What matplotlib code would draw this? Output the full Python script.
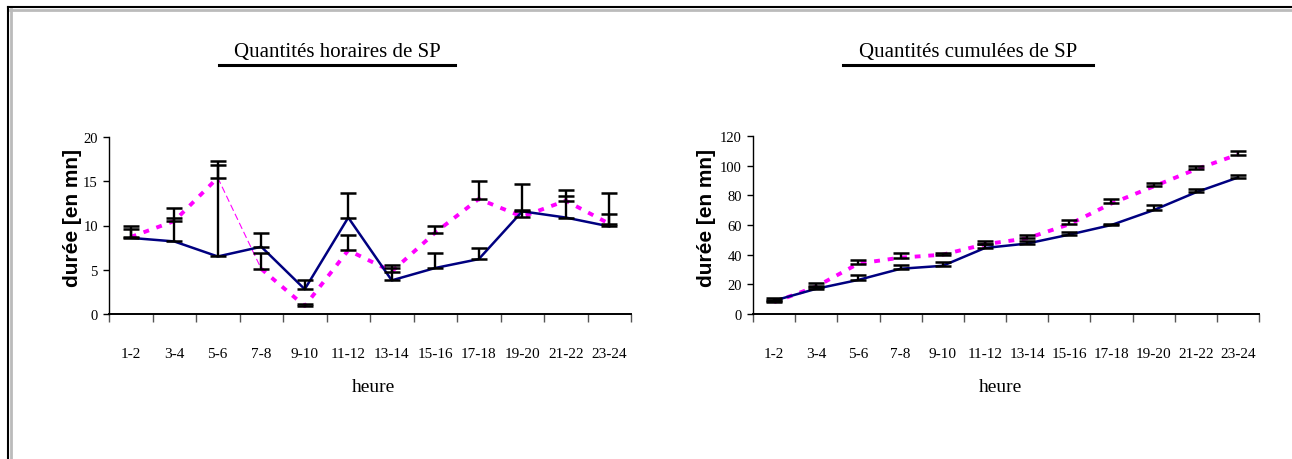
import numpy as np
import matplotlib.pyplot as plt
from matplotlib.lines import Line2D

# catégories (heures)
heures = ['1-2', '3-4', '5-6', '7-8', '9-10', '11-12',
          '13-14', '15-16', '17-18', '19-20', '21-22', '23-24']

# quantités horaires
horaire_bleu = [8.6, 8.2, 6.5, 7.6, 2.8, 10.9, 3.8, 5.2, 6.2, 11.6, 10.9, 9.9]
horaire_bleu_err = [1.3, 3.8, 10.8, 1.6, 1.0, 2.8, 1.7, 1.7, 1.3, 3.1, 2.4, 3.8]
horaire_rose = [8.7, 10.5, 15.4, 5.1, 0.9, 7.2, 4.8, 9.2, 13.0, 11.0, 12.8, 10.2]
horaire_rose_err = [0.9, 0.4, 1.4, 1.8, 0.2, 1.7, 0.4, 0.7, 2.0, 0.7, 1.2, 1.1]

# quantités cumulées
cumul_bleu = [9, 17, 23, 30.5, 32.5, 44.5, 47.5, 53.5, 60, 70, 82, 92]
cumul_bleu_err = [1.8, 3.7, 3.5, 2.5, 2.5, 2.5, 2, 1.5, 1, 3.5, 2, 2]
cumul_rose = [8, 18.5, 34, 38, 40, 47, 51, 60.5, 74.5, 86, 97.5, 107.5]
cumul_rose_err = [1.7, 0.6, 2.5, 3, 1, 2, 2, 3, 3, 2, 2.5, 2.5]

W, H = 1292, 460
fig = plt.figure(figsize=(W / 100, H / 100), dpi=100)

serif = 'Liberation Serif'
navy = '#000080'
magenta = '#FF00FF'


def px(x0, y0, x1, y1):
    # rectangle en pixels -> coordonnées figure
    return [x0 / W, 1 - y1 / H, (x1 - x0) / W, (y1 - y0) / H]


def tracer(ax, bleu, bleu_err, rose, rose_err, ymax, pas, coupe=False):
    x = np.arange(len(heures))
    ax.plot(x, bleu, color=navy, lw=1.8, zorder=3)
    dots = dict(color=magenta, lw=2.8, dashes=(1.5, 2.0), dash_capstyle='butt', zorder=2)
    if coupe:
        ax.plot(x[:3], rose[:3], **dots)
        ax.plot(x[3:], rose[3:], **dots)
        ax.plot(x[2:4], rose[2:4], color=magenta, lw=0.8, dashes=(6, 3), zorder=2)
    else:
        ax.plot(x, rose, **dots)
    zeros = np.zeros(len(heures))
    for v, e in ((bleu, bleu_err), (rose, rose_err)):
        ax.errorbar(x, v, yerr=[zeros, e], fmt='none', ecolor='black',
                    elinewidth=1.7, capsize=6, capthick=1.8, zorder=4)
    ax.set_xlim(-0.5, len(heures) - 0.5)
    ax.set_ylim(0, ymax)
    ax.set_yticks(np.arange(0, ymax + 1, pas))
    ax.set_xticks(x)
    ax.set_xticklabels(heures, fontfamily=serif, fontsize=11)
    ax.set_xticks(np.arange(-0.5, len(heures), 1), minor=True)
    ax.tick_params(axis='x', which='major', length=0, pad=24)
    ax.tick_params(axis='x', which='minor', length=6, width=1, color='#555555')
    ax.tick_params(axis='y', length=4, width=1, pad=4)
    for lab in ax.get_yticklabels():
        lab.set_fontfamily(serif)
        lab.set_fontsize(10.5)
    for s in ('top', 'right'):
        ax.spines[s].set_visible(False)
    ax.spines['left'].set_linewidth(1)
    ax.spines['bottom'].set_linewidth(1.4)
    ax.set_facecolor('none')


ax1 = fig.add_axes(px(109, 138, 631, 315))
tracer(ax1, horaire_bleu, horaire_bleu_err, horaire_rose, horaire_rose_err, 20, 5, coupe=True)
ax2 = fig.add_axes(px(753, 137, 1259, 315))
tracer(ax2, cumul_bleu, cumul_bleu_err, cumul_rose, cumul_rose_err, 120, 20)

# titres soulignés
for cx, x0, x1, txt in ((337, 219, 455, 'Quantités horaires de SP'),
                        (968, 843, 1093, 'Quantités cumulées de SP')):
    fig.text(cx / W, 1 - 52 / H, txt, ha='center', va='center',
             fontfamily=serif, fontsize=15)
    fig.add_artist(Line2D([x0 / W, x1 / W], [1 - 66 / H, 1 - 66 / H],
                          color='black', lw=2.2))

# axes: libellés
for cx in (373, 1000):
    fig.text(cx / W, 1 - 388 / H, 'heure', ha='center', va='center',
             fontfamily=serif, fontsize=14)
for cx in (73, 707):
    fig.text(cx / W, 1 - 218 / H, 'durée [en mn]', ha='center', va='center',
             rotation=90, fontfamily='Liberation Sans', fontweight='bold', fontsize=15)

# cadre
fig.add_artist(Line2D([8 / W, 1], [1 - 8 / H, 1 - 8 / H], color='black', lw=1.5))
fig.add_artist(Line2D([8 / W, 8 / W], [0, 1 - 8 / H], color='black', lw=1.5))
fig.add_artist(Line2D([10 / W, 1], [1 - 10.5 / H, 1 - 10.5 / H], color='#bbbbbb', lw=2))
fig.add_artist(Line2D([10.5 / W, 10.5 / W], [0, 1 - 10 / H], color='#bbbbbb', lw=2))

fig.savefig('out.png', dpi=100)
